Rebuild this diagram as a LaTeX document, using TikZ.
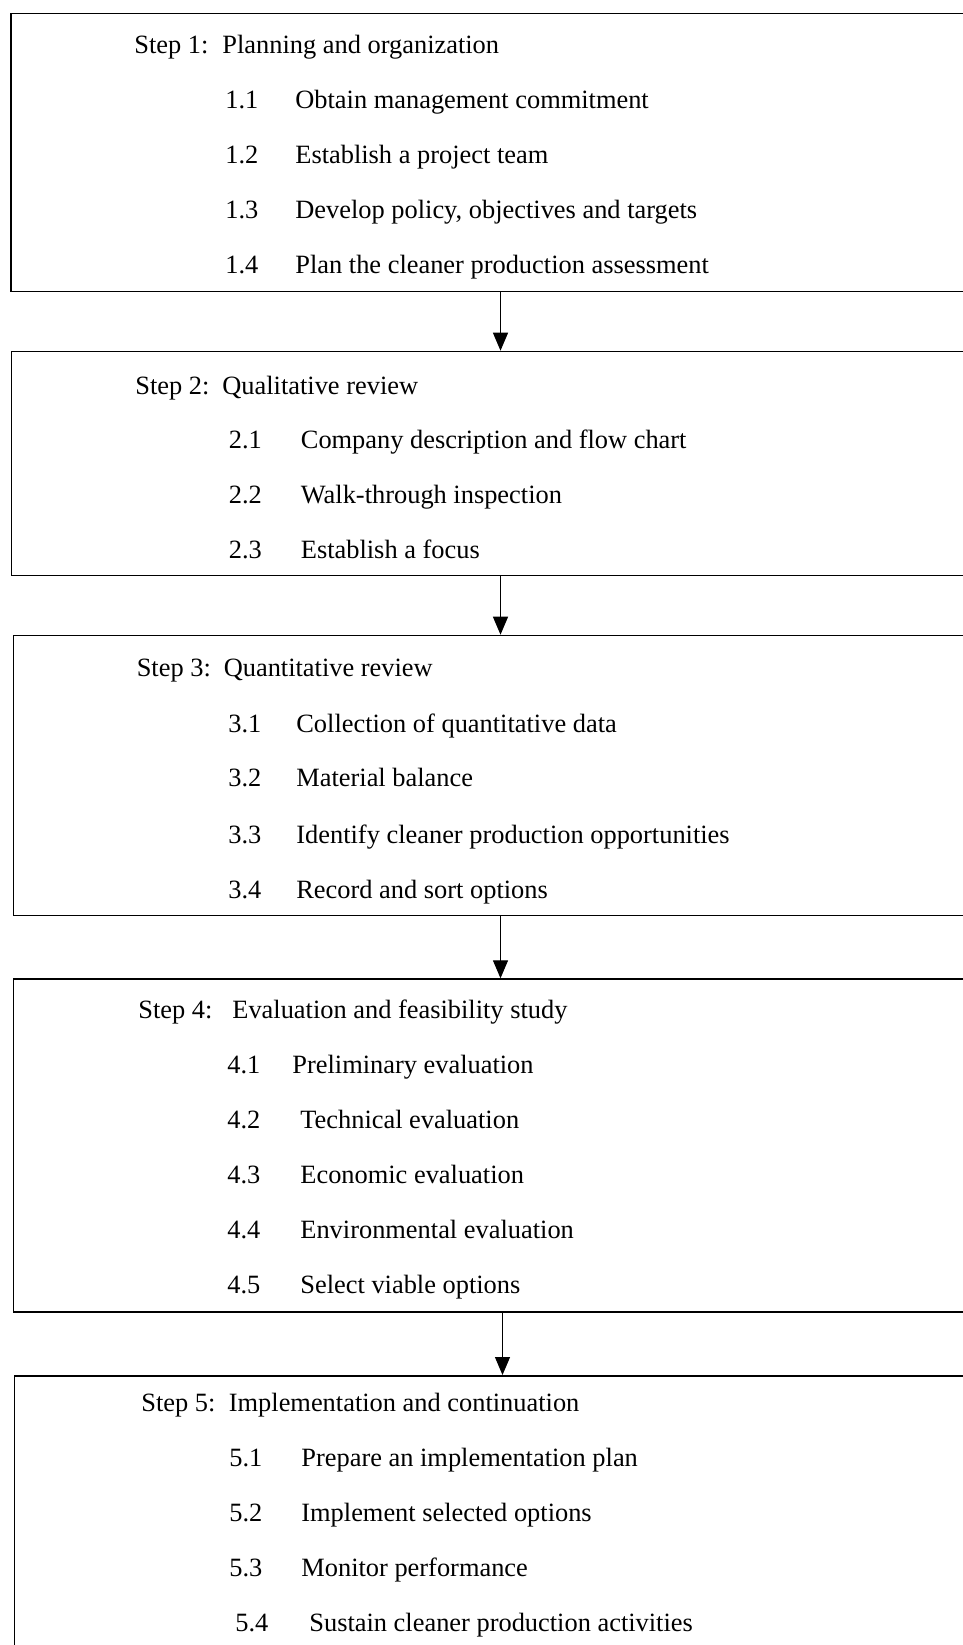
\documentclass[tikz,border=0pt]{standalone}
\usepackage{fontspec}
\setmainfont{Liberation Serif}
\usetikzlibrary{arrows.meta,positioning}

\begin{document}
\begin{tikzpicture}[x=0.5pt,y=-0.5pt,>={Triangle[length=9pt,width=7.5pt]},font=\fontsize{13.2}{15}\selectfont]
        \tikzstyle{stepbox}=[rectangle,draw=black,line width=0.8pt,anchor=north west,minimum width=495pt,inner sep=0pt]
        \tikzstyle{steptitle}=[anchor=base west,inner sep=0pt]
        \tikzstyle{substep}=[anchor=base west,inner sep=0pt]
        \tikzstyle{flow}=[->,line width=0.6pt]
        \useasboundingbox (0,0) rectangle (963,1645);
        % step boxes (right side runs off the page)
        \node[stepbox,minimum height=139pt] (box1) at (10,12.7) {};
        \node[stepbox,minimum height=112pt] (box2) at (10.5,350.7) {};
        \node[stepbox,minimum height=140pt] (box3) at (12.5,634.7) {};
        \node[stepbox,minimum height=166.5pt] (box4) at (12.5,978.3) {};
        \node[stepbox,minimum height=160pt] (box5) at (13.5,1375) {};
        % step 1
        \node[steptitle] (title1) at (134,53) {\makebox[44pt][l]{Step 1:}Planning and organization};
        \node[substep] (s11) at (225,108.3) {\makebox[35pt][l]{1.1}Obtain management commitment};
        \node[substep] (s12) at (225,163.3) {\makebox[35pt][l]{1.2}Establish a project team};
        \node[substep] (s13) at (225,218.3) {\makebox[35pt][l]{1.3}Develop policy, objectives and targets};
        \node[substep] (s14) at (225,273.3) {\makebox[35pt][l]{1.4}Plan the cleaner production assessment};
        % step 2
        \node[steptitle] (title2) at (135,394) {\makebox[43.5pt][l]{Step 2:}Qualitative review};
        \node[substep] (s21) at (228.5,448.3) {\makebox[36pt][l]{2.1}Company description and flow chart};
        \node[substep] (s22) at (228.5,503.3) {\makebox[36pt][l]{2.2}Walk-through inspection};
        \node[substep] (s23) at (228.5,558.3) {\makebox[36pt][l]{2.3}Establish a focus};
        % step 3
        \node[steptitle] (title3) at (136.4,676.5) {\makebox[43.5pt][l]{Step 3:}Quantitative review};
        \node[substep] (s31) at (228,732) {\makebox[34pt][l]{3.1}Collection of quantitative data};
        \node[substep] (s32) at (228,786.5) {\makebox[34pt][l]{3.2}Material balance};
        \node[substep] (s33) at (228,843) {\makebox[34pt][l]{3.3}Identify cleaner production opportunities};
        \node[substep] (s34) at (228,898.3) {\makebox[34pt][l]{3.4}Record and sort options};
        % step 4
        \node[steptitle] (title4) at (138,1018.3) {\makebox[47pt][l]{Step 4:}Evaluation and feasibility study};
        \node[substep] (s41) at (227,1073.3) {\makebox[32.5pt][l]{4.1}Preliminary evaluation};
        \node[substep] (s42) at (227,1128.3) {\makebox[36.5pt][l]{4.2}Technical evaluation};
        \node[substep] (s43) at (227,1183.3) {\makebox[36.5pt][l]{4.3}Economic evaluation};
        \node[substep] (s44) at (227,1238.3) {\makebox[36.5pt][l]{4.4}Environmental evaluation};
        \node[substep] (s45) at (227,1293.3) {\makebox[36.5pt][l]{4.5}Select viable options};
        % step 5
        \node[steptitle] (title5) at (141,1411) {\makebox[43.75pt][l]{Step 5:}Implementation and continuation};
        \node[substep] (s51) at (229,1466) {\makebox[36pt][l]{5.1}Prepare an implementation plan};
        \node[substep] (s52) at (229,1521) {\makebox[36pt][l]{5.2}Implement selected options};
        \node[substep] (s53) at (229,1576.5) {\makebox[36pt][l]{5.3}Monitor performance};
        \node[substep] (s54) at (235,1631) {\makebox[37pt][l]{5.4}Sustain cleaner production activities};
        % connectors
        \coordinate (ax) at (500.5,0);
        \coordinate (bx) at (502.5,0);
        \draw[flow] (box1.south -| ax) -- (box2.north -| ax);
        \draw[flow] (box2.south -| ax) -- (box3.north -| ax);
        \draw[flow] (box3.south -| ax) -- (box4.north -| ax);
        \draw[flow] (box4.south -| bx) -- (box5.north -| bx);
\end{tikzpicture}
\end{document}
